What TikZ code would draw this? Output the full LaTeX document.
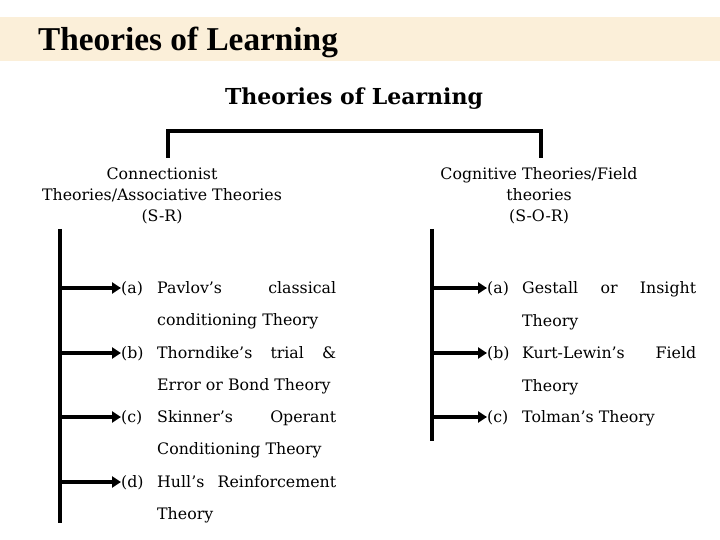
\documentclass[tikz,border=0pt]{standalone}
\usepackage{fontspec}
\setmainfont{DejaVu Serif}
\newfontfamily\titlefont{Liberation Serif}
\usetikzlibrary{arrows.meta}
\definecolor{band}{HTML}{FBEFD9}
\begin{document}
\begin{tikzpicture}[x=1pt,y=-1pt,
  txt/.style={font=\fontsize{15.8}{18}\selectfont, inner sep=0pt, anchor=base west},
  hd/.style={font=\fontsize{15.8}{21}\selectfont, inner sep=0pt, align=center},
  conn/.style={line width=3.6pt},
  arr/.style={line width=3.6pt, -{Triangle[length=9pt,width=11pt]}}]
\useasboundingbox (0,0) rectangle (720,540);
\fill[band] (0,17) rectangle (720,61);
\node[inner sep=0pt, anchor=base west, font=\titlefont\bfseries\fontsize{33.3}{35}\selectfont] (t1) at (38,51) {Theories of Learning};
\node[inner sep=0pt, anchor=base, font=\bfseries\fontsize{22}{24}\selectfont] (t2) at (354,105) {Theories of Learning};
% bracket
\coordinate (bl) at (168,158);
\coordinate (br) at (541,158);
\draw[conn] (bl) -- (168,131) -- (541,131) -- (br);
% headings
\node[hd] (lh) at (162,196) {Connectionist\\Theories/Associative Theories\\(S-R)};
\node[hd] (rh) at (539,196) {Cognitive Theories/Field\\theories\\(S-O-R)};
% spines
\coordinate (ls1) at (60,229);
\coordinate (ls2) at (60,523);
\coordinate (rs1) at (432,229);
\coordinate (rs2) at (432,441);
\draw[conn] (ls1) -- (ls2);
\draw[conn] (rs1) -- (rs2);
% left items
\node[txt] (la) at (121,293) {\makebox[36pt][l]{(a)}\makebox[179pt][s]{Pavlov's classical}};
\node[txt] (la2) at (157,325) {conditioning Theory};
\node[txt] (lb) at (121,358) {\makebox[36pt][l]{(b)}\makebox[179pt][s]{Thorndike's trial \&}};
\node[txt] (lb2) at (157,390) {Error or Bond Theory};
\node[txt] (lc) at (121,422) {\makebox[36pt][l]{(c)}\makebox[179pt][s]{Skinner's Operant}};
\node[txt] (lc2) at (157,454) {Conditioning Theory};
\node[txt] (ld) at (121,487) {\makebox[36pt][l]{(d)}\makebox[179pt][s]{Hull's Reinforcement}};
\node[txt] (ld2) at (157,519) {Theory};
\foreach \n/\y in {la/288,lb/353,lc/417,ld/482}{
  \coordinate (s\n) at (60,\y);
  \draw[arr] (s\n) -- (\n.west |- s\n);
}
% right items
\node[txt] (ra) at (487,293) {\makebox[35pt][l]{(a)}\makebox[174pt][s]{Gestall or Insight}};
\node[txt] (ra2) at (522,326) {Theory};
\node[txt] (rb) at (487,358) {\makebox[35pt][l]{(b)}\makebox[174pt][s]{Kurt-Lewin's Field}};
\node[txt] (rb2) at (522,391) {Theory};
\node[txt] (rc) at (487,422) {\makebox[35pt][l]{(c)}Tolman's Theory};
\foreach \n/\y in {ra/288,rb/353,rc/417}{
  \coordinate (s\n) at (432,\y);
  \draw[arr] (s\n) -- (\n.west |- s\n);
}
\end{tikzpicture}
\end{document}
